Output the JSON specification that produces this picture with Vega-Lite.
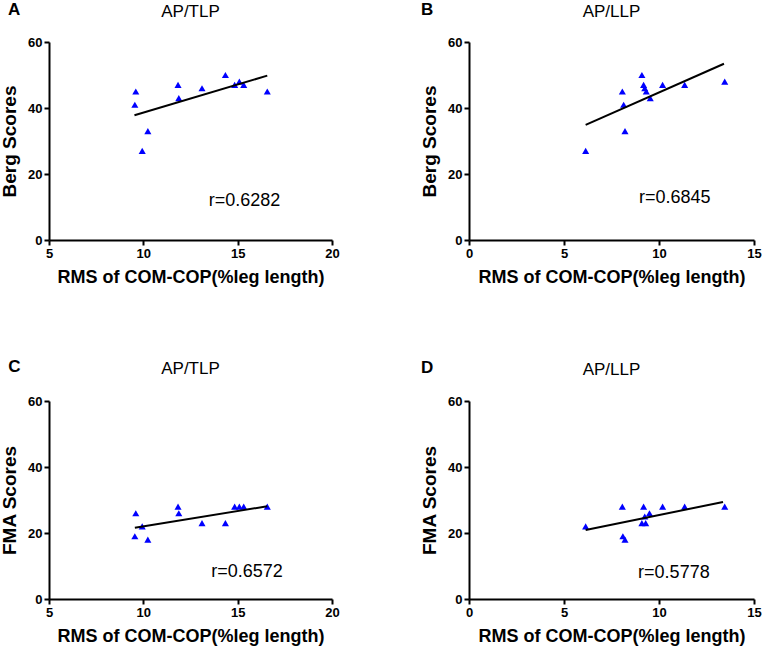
{
  "$schema": "https://vega.github.io/schema/vega-lite/v6.json",
  "padding": {"left": 0, "top": 0, "right": 5, "bottom": 5},
  "background": "white",
  "config": {
    "font": "Liberation Sans",
    "view": {"stroke": null},
    "axis": {
      "grid": false,
      "domainColor": "black",
      "domainWidth": 2,
      "tickColor": "black",
      "tickWidth": 2,
      "tickSize": 5,
      "labelFont": "Liberation Sans",
      "labelFontWeight": "bold",
      "labelFontSize": 13,
      "labelColor": "black",
      "labelPadding": 2,
      "labelFlush": false,
      "titleFont": "Liberation Sans",
      "titleFontWeight": "bold",
      "titleColor": "black"
    },
    "axisX": {"titlePadding": 8, "titleFontSize": 18},
    "axisY": {"titlePadding": 8, "titleFontSize": 19},
    "title": {
      "font": "Liberation Sans",
      "fontSize": 17,
      "fontWeight": "normal",
      "color": "black",
      "anchor": "middle",
      "frame": "group",
      "offset": -20
    }
  },
  "datasets": {
    "points": [
      {"panel": "A", "rms": 9.6, "score": 45},
      {"panel": "A", "rms": 9.55, "score": 41},
      {"panel": "A", "rms": 10.24, "score": 33},
      {"panel": "A", "rms": 9.94, "score": 27},
      {"panel": "A", "rms": 11.84, "score": 47},
      {"panel": "A", "rms": 11.88, "score": 43},
      {"panel": "A", "rms": 13.11, "score": 46},
      {"panel": "A", "rms": 14.35, "score": 50},
      {"panel": "A", "rms": 14.84, "score": 47},
      {"panel": "A", "rms": 15.09, "score": 48},
      {"panel": "A", "rms": 15.32, "score": 47},
      {"panel": "A", "rms": 16.57, "score": 45},
      {"panel": "B", "rms": 6.14, "score": 27},
      {"panel": "B", "rms": 8.07, "score": 45},
      {"panel": "B", "rms": 8.14, "score": 41},
      {"panel": "B", "rms": 8.21, "score": 33},
      {"panel": "B", "rms": 9.1, "score": 50},
      {"panel": "B", "rms": 9.19, "score": 47},
      {"panel": "B", "rms": 9.25, "score": 46},
      {"panel": "B", "rms": 9.33, "score": 45},
      {"panel": "B", "rms": 9.54, "score": 43},
      {"panel": "B", "rms": 10.19, "score": 47},
      {"panel": "B", "rms": 11.35, "score": 47},
      {"panel": "B", "rms": 13.46, "score": 48},
      {"panel": "C", "rms": 9.6, "score": 26},
      {"panel": "C", "rms": 9.55, "score": 19},
      {"panel": "C", "rms": 10.24, "score": 18},
      {"panel": "C", "rms": 9.94, "score": 22},
      {"panel": "C", "rms": 11.84, "score": 28},
      {"panel": "C", "rms": 11.88, "score": 26},
      {"panel": "C", "rms": 13.11, "score": 23},
      {"panel": "C", "rms": 14.35, "score": 23},
      {"panel": "C", "rms": 14.84, "score": 28},
      {"panel": "C", "rms": 15.09, "score": 28},
      {"panel": "C", "rms": 15.32, "score": 28},
      {"panel": "C", "rms": 16.57, "score": 28},
      {"panel": "D", "rms": 6.14, "score": 22},
      {"panel": "D", "rms": 8.07, "score": 28},
      {"panel": "D", "rms": 8.1, "score": 19},
      {"panel": "D", "rms": 8.21, "score": 18},
      {"panel": "D", "rms": 9.1, "score": 23},
      {"panel": "D", "rms": 9.19, "score": 28},
      {"panel": "D", "rms": 9.25, "score": 25},
      {"panel": "D", "rms": 9.3, "score": 23},
      {"panel": "D", "rms": 9.5, "score": 26},
      {"panel": "D", "rms": 10.19, "score": 28},
      {"panel": "D", "rms": 11.35, "score": 28},
      {"panel": "D", "rms": 13.46, "score": 28}
    ],
    "fits": [
      {"panel": "A", "rms": 9.53, "score": 37.8},
      {"panel": "A", "rms": 16.57, "score": 49.8},
      {"panel": "B", "rms": 6.14, "score": 34.9},
      {"panel": "B", "rms": 13.42, "score": 53.4},
      {"panel": "C", "rms": 9.55, "score": 21.6},
      {"panel": "C", "rms": 16.57, "score": 28.1},
      {"panel": "D", "rms": 6.14, "score": 20.9},
      {"panel": "D", "rms": 13.37, "score": 29.4}
    ],
    "labels": [
      {"panel": "A", "letter": "A", "r": "r=0.6282"},
      {"panel": "B", "letter": "B", "r": "r=0.6845"},
      {"panel": "C", "letter": "C", "r": "r=0.6572"},
      {"panel": "D", "letter": "D", "r": "r=0.5778"}
    ]
  },
  "columns": 2,
  "spacing": {"row": 72, "column": 80},
  "concat": [
    {
      "width": 283,
      "height": 198,
      "title": "AP/TLP",
      "layer": [
        {
          "data": {"name": "points"},
          "transform": [{"filter": "datum.panel == 'A'"}],
          "mark": {"type": "point", "shape": "triangle-up", "filled": true, "size": 50, "color": "#0000ff", "opacity": 1},
          "encoding": {
            "x": {"field": "rms", "type": "quantitative", "title": "RMS of COM-COP(%leg length)", "scale": {"domain": [5, 20], "nice": false}, "axis": {"values": [5, 10, 15, 20]}},
            "y": {"field": "score", "type": "quantitative", "title": "Berg Scores", "scale": {"domain": [0, 60], "nice": false}, "axis": {"values": [0, 20, 40, 60]}}
          }
        },
        {
          "data": {"name": "fits"},
          "transform": [{"filter": "datum.panel == 'A'"}],
          "mark": {"type": "line", "color": "black", "strokeWidth": 2},
          "encoding": {
            "x": {"field": "rms", "type": "quantitative"},
            "y": {"field": "score", "type": "quantitative"}
          }
        },
        {
          "data": {"name": "labels"},
          "transform": [{"filter": "datum.panel == 'A'"}],
          "mark": {"type": "text", "align": "left", "baseline": "middle", "fontSize": 18, "color": "black"},
          "encoding": {
            "x": {"datum": 13.47, "type": "quantitative"},
            "y": {"datum": 11.7, "type": "quantitative"},
            "text": {"field": "r"}
          }
        },
        {
          "data": {"name": "labels"},
          "transform": [{"filter": "datum.panel == 'A'"}],
          "mark": {"type": "text", "align": "center", "baseline": "middle", "fontSize": 17, "fontWeight": "bold", "color": "black"},
          "encoding": {
            "x": {"datum": 3.15, "type": "quantitative"},
            "y": {"datum": 69.8, "type": "quantitative"},
            "text": {"field": "letter"}
          }
        }
      ]
    },
    {
      "width": 285,
      "height": 198,
      "title": "AP/LLP",
      "layer": [
        {
          "data": {"name": "points"},
          "transform": [{"filter": "datum.panel == 'B'"}],
          "mark": {"type": "point", "shape": "triangle-up", "filled": true, "size": 50, "color": "#0000ff", "opacity": 1},
          "encoding": {
            "x": {"field": "rms", "type": "quantitative", "title": "RMS of COM-COP(%leg length)", "scale": {"domain": [0, 15], "nice": false}, "axis": {"values": [0, 5, 10, 15]}},
            "y": {"field": "score", "type": "quantitative", "title": "Berg Scores", "scale": {"domain": [0, 60], "nice": false}, "axis": {"values": [0, 20, 40, 60]}}
          }
        },
        {
          "data": {"name": "fits"},
          "transform": [{"filter": "datum.panel == 'B'"}],
          "mark": {"type": "line", "color": "black", "strokeWidth": 2},
          "encoding": {
            "x": {"field": "rms", "type": "quantitative"},
            "y": {"field": "score", "type": "quantitative"}
          }
        },
        {
          "data": {"name": "labels"},
          "transform": [{"filter": "datum.panel == 'B'"}],
          "mark": {"type": "text", "align": "left", "baseline": "middle", "fontSize": 18, "color": "black"},
          "encoding": {
            "x": {"datum": 8.95, "type": "quantitative"},
            "y": {"datum": 12.75, "type": "quantitative"},
            "text": {"field": "r"}
          }
        },
        {
          "data": {"name": "labels"},
          "transform": [{"filter": "datum.panel == 'B'"}],
          "mark": {"type": "text", "align": "center", "baseline": "middle", "fontSize": 17, "fontWeight": "bold", "color": "black"},
          "encoding": {
            "x": {"datum": -2.2, "type": "quantitative"},
            "y": {"datum": 69.8, "type": "quantitative"},
            "text": {"field": "letter"}
          }
        }
      ]
    },
    {
      "width": 283,
      "height": 198,
      "title": "AP/TLP",
      "layer": [
        {
          "data": {"name": "points"},
          "transform": [{"filter": "datum.panel == 'C'"}],
          "mark": {"type": "point", "shape": "triangle-up", "filled": true, "size": 50, "color": "#0000ff", "opacity": 1},
          "encoding": {
            "x": {"field": "rms", "type": "quantitative", "title": "RMS of COM-COP(%leg length)", "scale": {"domain": [5, 20], "nice": false}, "axis": {"values": [5, 10, 15, 20]}},
            "y": {"field": "score", "type": "quantitative", "title": "FMA Scores", "scale": {"domain": [0, 60], "nice": false}, "axis": {"values": [0, 20, 40, 60]}}
          }
        },
        {
          "data": {"name": "fits"},
          "transform": [{"filter": "datum.panel == 'C'"}],
          "mark": {"type": "line", "color": "black", "strokeWidth": 2},
          "encoding": {
            "x": {"field": "rms", "type": "quantitative"},
            "y": {"field": "score", "type": "quantitative"}
          }
        },
        {
          "data": {"name": "labels"},
          "transform": [{"filter": "datum.panel == 'C'"}],
          "mark": {"type": "text", "align": "left", "baseline": "middle", "fontSize": 18, "color": "black"},
          "encoding": {
            "x": {"datum": 13.6, "type": "quantitative"},
            "y": {"datum": 8.3, "type": "quantitative"},
            "text": {"field": "r"}
          }
        },
        {
          "data": {"name": "labels"},
          "transform": [{"filter": "datum.panel == 'C'"}],
          "mark": {"type": "text", "align": "center", "baseline": "middle", "fontSize": 17, "fontWeight": "bold", "color": "black"},
          "encoding": {
            "x": {"datum": 3.17, "type": "quantitative"},
            "y": {"datum": 70.3, "type": "quantitative"},
            "text": {"field": "letter"}
          }
        }
      ]
    },
    {
      "width": 285,
      "height": 198,
      "title": "AP/LLP",
      "layer": [
        {
          "data": {"name": "points"},
          "transform": [{"filter": "datum.panel == 'D'"}],
          "mark": {"type": "point", "shape": "triangle-up", "filled": true, "size": 50, "color": "#0000ff", "opacity": 1},
          "encoding": {
            "x": {"field": "rms", "type": "quantitative", "title": "RMS of COM-COP(%leg length)", "scale": {"domain": [0, 15], "nice": false}, "axis": {"values": [0, 5, 10, 15]}},
            "y": {"field": "score", "type": "quantitative", "title": "FMA Scores", "scale": {"domain": [0, 60], "nice": false}, "axis": {"values": [0, 20, 40, 60]}}
          }
        },
        {
          "data": {"name": "fits"},
          "transform": [{"filter": "datum.panel == 'D'"}],
          "mark": {"type": "line", "color": "black", "strokeWidth": 2},
          "encoding": {
            "x": {"field": "rms", "type": "quantitative"},
            "y": {"field": "score", "type": "quantitative"}
          }
        },
        {
          "data": {"name": "labels"},
          "transform": [{"filter": "datum.panel == 'D'"}],
          "mark": {"type": "text", "align": "left", "baseline": "middle", "fontSize": 18, "color": "black"},
          "encoding": {
            "x": {"datum": 8.9, "type": "quantitative"},
            "y": {"datum": 8.0, "type": "quantitative"},
            "text": {"field": "r"}
          }
        },
        {
          "data": {"name": "labels"},
          "transform": [{"filter": "datum.panel == 'D'"}],
          "mark": {"type": "text", "align": "center", "baseline": "middle", "fontSize": 17, "fontWeight": "bold", "color": "black"},
          "encoding": {
            "x": {"datum": -2.2, "type": "quantitative"},
            "y": {"datum": 70.0, "type": "quantitative"},
            "text": {"field": "letter"}
          }
        }
      ]
    }
  ]
}
